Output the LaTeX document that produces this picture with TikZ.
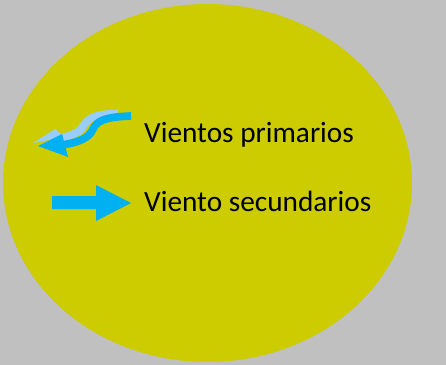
\documentclass[tikz,border=0pt]{standalone}
\usepackage{fontspec}
\setmainfont{Carlito}
\usetikzlibrary{positioning}
\definecolor{backgray}{HTML}{C0C0C0}
\definecolor{olivefill}{HTML}{CCCC00}
\definecolor{windblue}{HTML}{00B0F0}
\definecolor{windlight}{HTML}{99CCFF}

\begin{document}
\begin{tikzpicture}[x=0.03cm, y=-0.03cm,
    label/.style = {anchor=base west, inner sep=0pt,
                    font=\fontsize{25}{30}\selectfont},
    band/.style  = {line width=0.23cm, line cap=butt}
  ]
  % background and disc
  \fill[backgray] (0,0) rectangle (446,365);
  \useasboundingbox (0,0) rectangle (446,365);
  \fill[olivefill] (207.5,183) ellipse [x radius=204.5, y radius=179];

  % texts
  \node[label] (prim) at (144,142) {Vientos primarios};
  \node[label] (sec)  at (144,211) {Viento secundarios};

  % curved arrow, back face
  \draw[band, windlight] (118,113.5) .. controls (97,114) and (89,117) .. (84,125)
        .. controls (80,132) and (74,135) .. (60,138);
  \fill[windlight] (33,143) -- (55,129) -- (64,137) -- cycle;
  % curved arrow, front face
  \draw[band, windblue] (131,116) .. controls (104,117) and (97,121) .. (93,129)
        .. controls (89,138) and (80,142) .. (62,145);
  \fill[windblue] (38,146) -- (62,134) -- (68,157) -- cycle;

  % straight arrow
  \fill[windblue] (52,196) -- (96,196) -- (96,185) -- (131,203)
        -- (96,221) -- (96,209) -- (52,209) -- cycle;
\end{tikzpicture}
\end{document}
